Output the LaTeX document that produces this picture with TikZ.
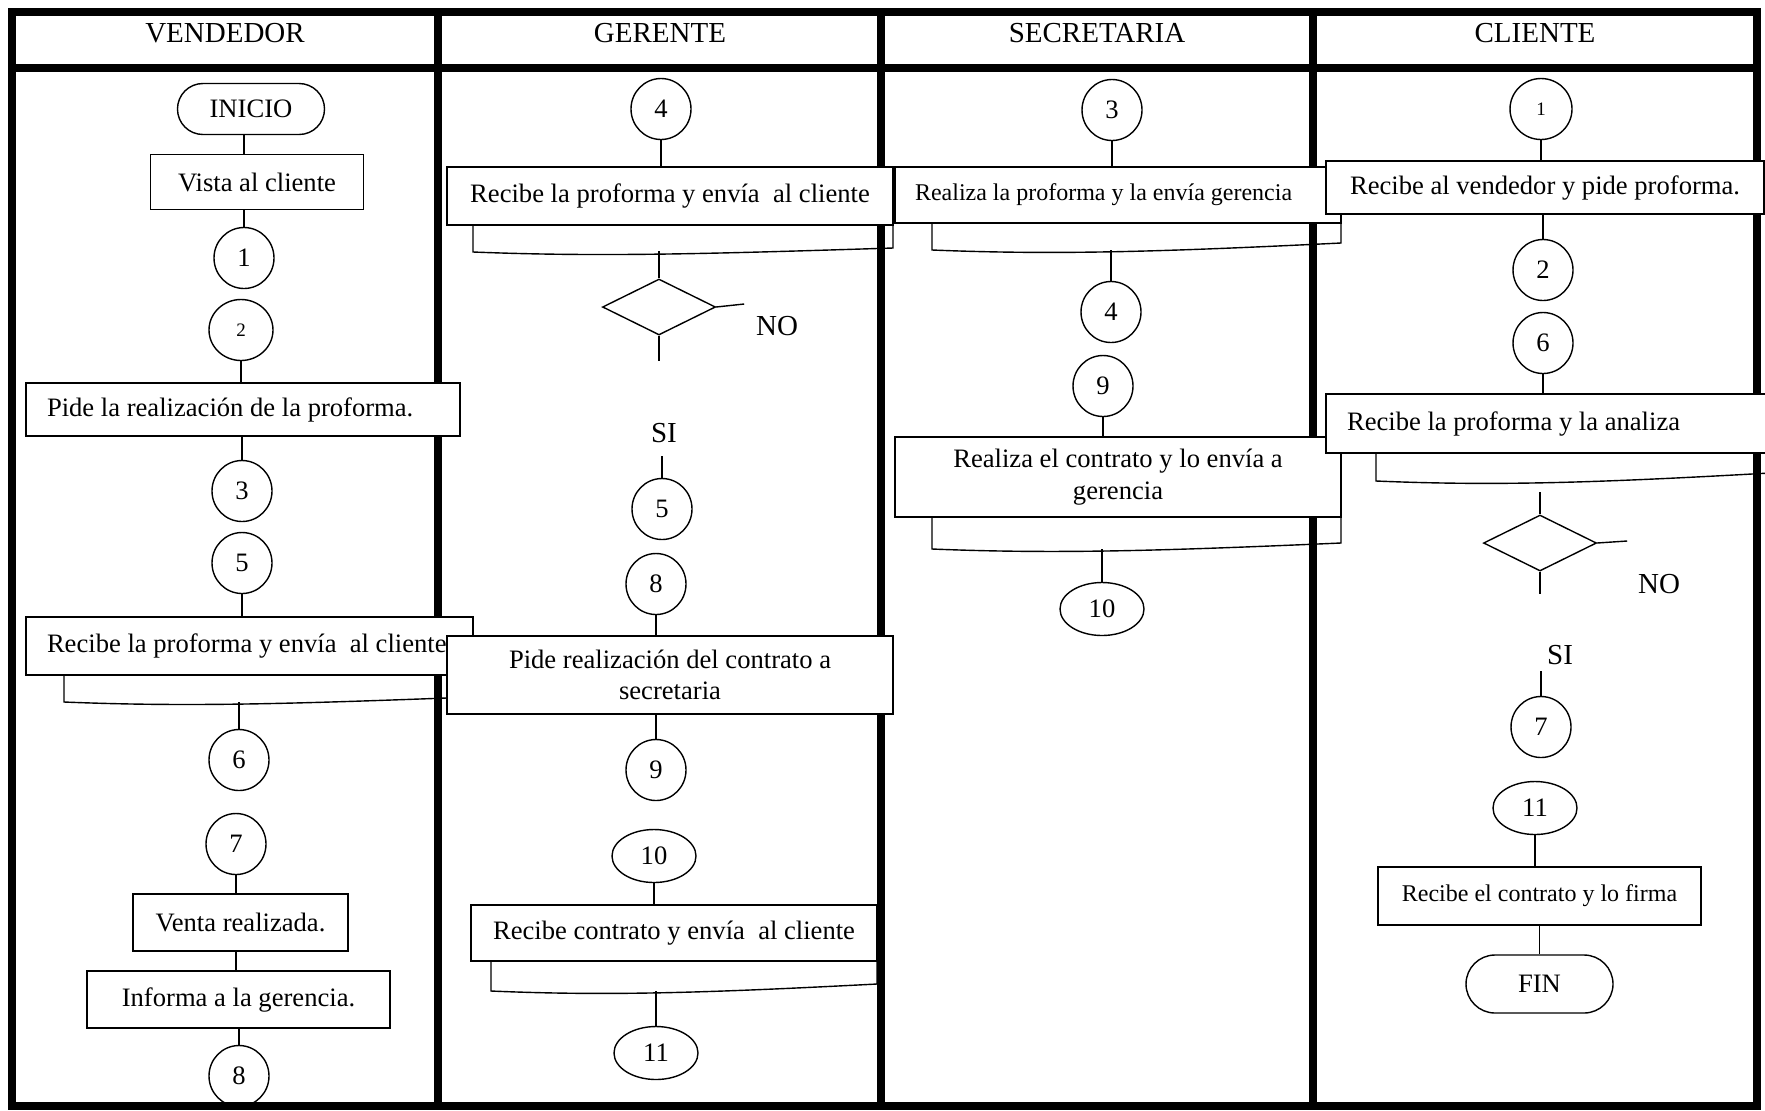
\documentclass[tikz,border=0pt]{standalone}
\usepackage{fontspec}
\setmainfont{Liberation Serif}
\usetikzlibrary{shapes.geometric}

\newcommand{\txthead}{\fontsize{14.5}{17}\selectfont}
\newcommand{\txtbody}{\fontsize{13.3}{15.8}\selectfont}
\newcommand{\txtsmall}{\fontsize{12}{14}\selectfont}
\newcommand{\txttiny}{\fontsize{9.5}{11}\selectfont}
\newcommand{\leftin}[2]{\makebox[#1][l]{#2}}

% document shape: left x, right x, top y, bottom left y, bottom right y
\newcommand{\docwave}[5]{%
  \draw[doc] (#1,#3) -- (#1,#4)
    .. controls ({#1+0.3*(#2-#1)},{#4+5}) and ({#1+0.55*(#2-#1)},{#4+2}) .. (#2,#5)
    -- (#2,#3);}

\tikzset{
  lane/.style={line width=4pt},
  lanehead/.style={font=\txthead},
  link/.style={line width=0.7pt},
  doc/.style={line width=0.7pt},
  proc/.style={draw, fill=white, line width=0.7pt, inner sep=0pt, font=\txtbody},
  conn/.style={draw, fill=white, ellipse, line width=0.7pt, inner sep=0pt,
    minimum width=30pt, minimum height=30.5pt, font=\txtbody},
  connwide/.style={conn, minimum width=42pt, minimum height=26.5pt},
  term/.style={draw, fill=white, line width=0.7pt, inner sep=0pt,
    minimum width=73.5pt, font=\txtbody},
  decision/.style={draw, fill=white, diamond, line width=0.7pt, inner sep=0pt,
    minimum width=56.5pt, minimum height=28pt},
  answer/.style={font=\txthead}
}

\begin{document}
\begin{tikzpicture}[x=0.5pt, y=-0.5pt]
  \useasboundingbox (0,0) rectangle (1765,1110);

  % lanes
  \draw[lane] (12,12) rectangle (1757,1106);
  \draw[lane] (12,68) -- (1757,68);
  \foreach \x in {438,881,1313}
    \draw[lane] (\x,12) -- (\x,1106);

  \node[lanehead] (hvend) at (225,33) {VENDEDOR};
  \node[lanehead] (hger) at (660,33) {GERENTE};
  \node[lanehead] (hsec) at (1097,33) {SECRETARIA};
  \node[lanehead] (hcli) at (1535,33) {CLIENTE};

  % vendedor
  \node[term, minimum height=25.5pt, rounded corners=12.7pt] (inicio) at (251,109) {INICIO};
  \node[proc, minimum width=106.5pt, minimum height=27.5pt] (vista) at (257,182) {Vista al cliente};
  \node[conn] (v1) at (244,258) {1};
  \node[conn, minimum width=32pt, font=\txttiny] (v2) at (241,330) {2};
  \node[proc, minimum height=26.5pt, inner xsep=10.5pt] (vpide) at (243,409.5) {\leftin{196pt}{Pide la realización de la proforma.}};
  \node[conn] (v3) at (242,491) {3};
  \node[conn] (v5) at (242,563) {5};
  \docwave{64}{473}{675}{702}{697}
  \node[proc, minimum height=29pt, inner xsep=10.5pt] (vrecibe) at (249.5,646) {\leftin{202.5pt}{Recibe la proforma y envía \ al cliente}};
  \node[conn] (v6) at (239,760) {6};
  \node[conn] (v7) at (236,844) {7};
  \node[proc, minimum width=107.5pt, minimum height=28.5pt] (venta) at (240.5,922.5) {Venta realizada.};
  \node[proc, minimum width=151.5pt, minimum height=28.5pt] (informa) at (238.5,999.5) {Informa a la gerencia.};
  \node[conn] (v8) at (239,1076) {8};

  \draw[link] (inicio.south -| v1) -- (vista.north -| v1);
  \draw[link] (vista.south -| v1) -- (v1.north);
  \draw[link] (v2.south) -- (vpide.north -| v2);
  \draw[link] (vpide.south -| v3) -- (v3.north);
  \draw[link] (v5.south) -- (vrecibe.north -| v5);
  \draw[link] (v6.north) -- ++(0,-27);
  \draw[link] (v7.south) -- (venta.north -| v7);
  \draw[link] (venta.south -| v7) -- (informa.north -| v7);
  \draw[link] (informa.south -| v8) -- (v8.north);

  % gerente
  \node[conn] (g4) at (661,109) {4};
  \docwave{473}{893}{225}{252}{248}
  \node[proc, minimum width=223pt, minimum height=29pt] (grecibe) at (670,196) {Recibe la proforma y envía \ al cliente};
  \node[decision] (gdec) at (659,307) {};
  \draw[link] (gdec.east) -- ++(28,-3);
  \node[answer] (gno) at (777,326) {NO};
  \draw[link] (gdec.south) -- ++(0,25);
  \node[answer] (gsi) at (664,433) {SI};
  \node[conn] (g5) at (662,509) {5};
  \node[conn] (g8) at (656,584) {8};
  \node[proc, minimum width=223pt, minimum height=39pt, align=center] (gpide) at (670,675) {Pide realización del contrato a\\secretaria};
  \node[conn] (g9) at (656,770) {9};
  \node[connwide] (g10) at (654,856) {10};
  \docwave{491}{877}{961}{991}{984}
  \node[proc, minimum width=203pt, minimum height=28pt] (gcontrato) at (674,933) {Recibe contrato y envía \ al cliente};
  \node[connwide] (g11) at (656,1053) {11};

  \draw[link] (g4.south) -- (grecibe.north -| g4);
  \draw[link] (gdec.north) -- ++(0,-27);
  \draw[link] (g5.north) -- ++(0,-22);
  \draw[link] (g8.south) -- (gpide.north -| g8);
  \draw[link] (gpide.south -| g9) -- (g9.north);
  \draw[link] (g10.south) -- (gcontrato.north -| g10);
  \draw[link] (g11.north) -- ++(0,-35);

  % secretaria
  \node[conn] (s3) at (1112,110) {3};
  \docwave{932}{1341}{223}{250}{243}
  \node[proc, minimum height=28pt, inner xsep=10pt, font=\txtsmall] (sproforma) at (1118,195) {\leftin{203pt}{Realiza la proforma y la envía gerencia}};
  \node[conn] (s4) at (1111,312) {4};
  \node[conn] (s9) at (1103,386) {9};
  \docwave{932}{1341}{517}{549}{543}
  \node[proc, minimum width=223pt, minimum height=40pt, align=center] (scontrato) at (1118,477) {Realiza el contrato y lo envía a\\gerencia};
  \node[connwide] (s10) at (1102,609) {10};

  \draw[link] (s3.south) -- (sproforma.north -| s3);
  \draw[link] (s4.north) -- ++(0,-31);
  \draw[link] (s9.south) -- (scontrato.north -| s9);
  \draw[link] (s10.north) -- ++(0,-33);

  % cliente
  \node[conn, minimum width=31pt, font=\txttiny] (k1) at (1541,109) {1};
  \node[proc, minimum width=219pt, minimum height=26.5pt] (krecibe) at (1545,187.5) {Recibe al vendedor y pide proforma.};
  \node[conn] (k2) at (1543,270) {2};
  \node[conn] (k6) at (1543,343) {6};
  \docwave{1376}{1770}{453}{481}{473}
  \node[proc, minimum height=29.5pt, inner xsep=10.5pt] (kanaliza) at (1548,423.5) {\leftin{201pt}{Recibe la proforma y la analiza}};
  \node[decision] (kdec) at (1540,543) {};
  \draw[link] (kdec.east) -- ++(30,-2);
  \node[answer] (kno) at (1659,584) {NO};
  \draw[link] (kdec.south) -- ++(0,22);
  \node[answer] (ksi) at (1560,655) {SI};
  \node[conn] (k7) at (1541,727) {7};
  \node[connwide] (k11) at (1535,808) {11};
  \node[proc, minimum width=161.5pt, minimum height=29pt, font=\txtsmall] (kfirma) at (1539.5,896) {Recibe el contrato y lo firma};
  \node[term, minimum height=29pt, rounded corners=14.5pt] (fin) at (1539.5,984) {FIN};

  \draw[link] (k1.south) -- (krecibe.north -| k1);
  \draw[link] (krecibe.south -| k2) -- (k2.north);
  \draw[link] (k6.south) -- (kanaliza.north -| k6);
  \draw[link] (kdec.north) -- ++(0,-22);
  \draw[link] (k7.north) -- ++(0,-25);
  \draw[link] (k11.south) -- (kfirma.north -| k11);
  \draw[link] (kfirma.south -| fin) -- (fin.north);

  \draw[lane] (12,1106) -- (1757,1106);
\end{tikzpicture}
\end{document}
